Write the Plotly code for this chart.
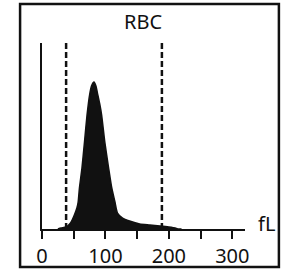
import plotly.graph_objects as go

# RBC volume histogram (relative counts)
volume_fl = [25, 30, 38, 45, 51, 55, 57, 59, 63, 67, 71, 75, 78, 82, 85, 88, 91, 94,
             99, 105, 110, 115, 119, 127, 138, 154, 170, 186, 200, 210, 214, 220]
counts = [0, 1, 2, 6, 14, 21, 27, 41, 61, 87, 114, 134, 143, 147, 143, 134, 125, 114,
          87, 61, 41, 27, 16, 11, 8, 5, 4, 3, 2, 1, 0, 0]

discriminators_fl = [38, 189]
tick_vals = [0, 50, 100, 150, 200, 250, 300]
tick_text = ["0", "", "100", "", "200", "", "300"]
title_text = "RBC"
unit_text = "fL"

FONT = "Noto Sans, Open Sans, sans-serif"

fig = go.Figure()
fig.add_trace(go.Scatter(
    x=volume_fl, y=counts, mode="lines",
    line=dict(color="#111111", width=1.5, shape="spline", smoothing=0.6),
    fill="tozeroy", fillcolor="#111111", hoverinfo="skip", showlegend=False,
))

for d in discriminators_fl:
    fig.add_shape(type="line", xref="x", yref="paper", x0=d, x1=d, y0=0, y1=1,
                  line=dict(color="#111111", width=2.5, dash="6px,3px"))

# outer frame
fig.add_shape(type="rect", xref="paper", yref="paper",
              x0=-0.108, x1=1.167, y0=-0.204, y1=1.21,
              line=dict(color="#111111", width=2.5))

fig.add_annotation(text=title_text, xref="paper", yref="paper", x=0.4975, y=1.116,
                   xanchor="center", yanchor="middle",
                   showarrow=False, font=dict(family=FONT, size=20, color="#111111"))
fig.add_annotation(text=unit_text, xref="paper", yref="paper", x=1.108, y=0.027,
                   xanchor="center", yanchor="middle",
                   showarrow=False, font=dict(family=FONT, size=20, color="#111111"))

fig.update_layout(
    width=282, height=269,
    margin=dict(l=42, r=37, t=43, b=40, pad=0),
    paper_bgcolor="white", plot_bgcolor="white",
    font=dict(family=FONT, size=20, color="#111111"),
    xaxis=dict(range=[0, 320], tickvals=tick_vals, ticktext=tick_text,
               ticks="outside", ticklen=8, tickwidth=2, tickcolor="#111111",
               showline=True, linecolor="#111111", linewidth=2, automargin=False,
               showgrid=False, zeroline=False, fixedrange=True),
    yaxis=dict(range=[0, 186], showticklabels=False, ticks="", automargin=False,
               showline=True, linecolor="#111111", linewidth=2,
               showgrid=False, zeroline=False, fixedrange=True),
)

fig.write_html("out.html", config={"displayModeBar": False},
               post_script="document.body.style.margin='0';"
                           "document.documentElement.style.overflow='hidden';")
